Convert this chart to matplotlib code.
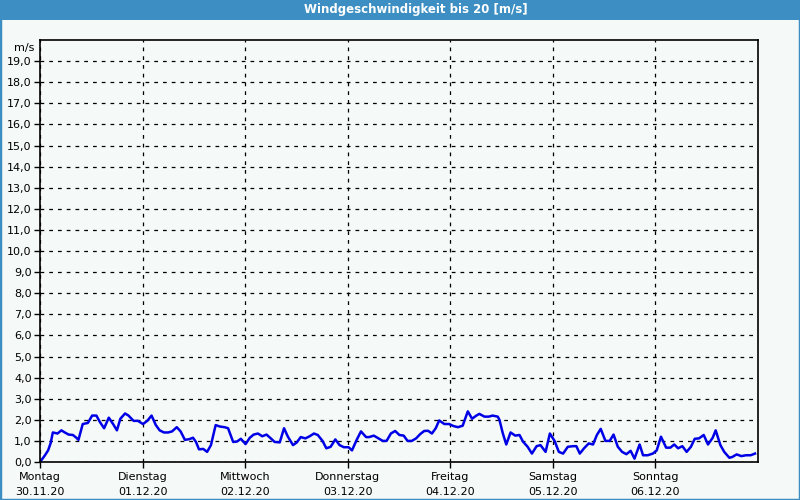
import matplotlib
matplotlib.use("Agg")
import matplotlib.pyplot as plt
from matplotlib.patches import Rectangle
from matplotlib.ticker import FuncFormatter

title = "Windgeschwindigkeit bis 20 [m/s]"
unit = "m/s"
days = ["Montag", "Dienstag", "Mittwoch", "Donnerstag", "Freitag", "Samstag", "Sonntag"]
dates = ["30.11.20", "01.12.20", "02.12.20", "03.12.20", "04.12.20", "05.12.20", "06.12.20"]

# hours since 30.11.20 00:00
hours = [
    0.0, 1.1, 1.9, 2.5, 3.0, 4.1, 5.0, 5.8, 6.7, 7.7, 8.5, 9.0, 10.0, 11.2, 12.2, 13.2,
    14.0, 15.0, 16.1, 17.1, 18.0, 18.8, 19.9, 20.7, 21.9, 22.9, 24.1,
    25.1, 26.1, 27.1, 28.0, 29.0, 30.0, 30.9, 32.0, 32.9, 33.9, 34.9, 35.8, 36.5, 37.2,
    38.2, 39.1, 40.0, 41.1, 42.1, 43.2, 44.0, 45.2, 46.1, 47.0, 48.1,
    49.1, 50.0, 51.0, 52.0, 53.0, 54.0, 54.9, 56.1, 57.1, 58.0, 59.2, 60.1, 61.0, 62.1,
    63.1, 64.1, 65.0, 66.1, 67.0, 68.0, 69.1, 70.1, 71.1, 72.2,
    73.0, 74.1, 75.1, 76.3, 77.0, 78.1, 79.2, 80.2, 81.1, 82.1, 83.1, 84.1, 85.1, 86.0,
    87.0, 88.0, 89.0, 89.9, 90.8, 91.7, 92.6, 93.4, 94.6, 95.7, 96.8,
    97.8, 98.9, 100.1, 101.1, 102.1, 102.8, 104.0, 105.0, 105.9, 107.1, 107.5, 108.3,
    109.1, 110.1, 111.2, 112.2, 113.0, 114.1, 115.1, 116.2, 117.1, 118.3, 119.3, 120.4,
    121.4, 122.4, 123.5, 124.7, 125.5, 126.3, 127.3, 128.4, 129.4, 130.3, 131.2, 132.3,
    133.3, 134.2, 135.2, 136.2, 137.2, 138.2, 139.1, 140.3, 141.1, 142.2, 143.4, 144.3,
    145.3, 146.5, 147.5, 148.4, 149.3, 150.3, 151.3, 152.3, 153.2, 154.2, 155.3, 156.3,
    157.4, 158.1, 159.2, 160.1, 161.3, 162.0, 163.0, 164.1, 165.2, 166.3, 167.3,
]
wind = [
    0.0, 0.3, 0.55, 0.9, 1.4, 1.35, 1.5, 1.4, 1.3, 1.28, 1.15, 1.05, 1.8, 1.85, 2.2, 2.2,
    1.9, 1.6, 2.1, 1.8, 1.5, 2.05, 2.3, 2.2, 1.95, 1.95, 1.8,
    1.95, 2.2, 1.75, 1.5, 1.4, 1.4, 1.45, 1.65, 1.45, 1.05, 1.08, 1.15, 0.95, 0.6,
    0.62, 0.48, 0.8, 1.75, 1.68, 1.65, 1.6, 0.95, 0.97, 1.1, 0.85,
    1.15, 1.3, 1.35, 1.22, 1.3, 1.12, 0.95, 0.93, 1.6, 1.2, 0.8, 0.93, 1.18, 1.12,
    1.22, 1.35, 1.28, 1.0, 0.65, 0.72, 1.07, 0.8, 0.7, 0.7,
    0.55, 1.05, 1.45, 1.18, 1.18, 1.25, 1.12, 1.0, 1.0, 1.35, 1.47, 1.28, 1.25, 1.0,
    1.0, 1.12, 1.33, 1.47, 1.48, 1.35, 1.6, 1.97, 1.8, 1.8, 1.7,
    1.65, 1.72, 2.4, 2.05, 2.2, 2.28, 2.15, 2.15, 2.2, 2.15, 2.0, 1.35,
    0.83, 1.4, 1.25, 1.28, 0.97, 0.72, 0.4, 0.75, 0.8, 0.48, 1.35, 1.0,
    0.48, 0.4, 0.72, 0.75, 0.75, 0.4, 0.65, 0.88, 0.83, 1.28, 1.57, 1.0,
    1.0, 1.3, 0.72, 0.48, 0.37, 0.53, 0.16, 0.83, 0.32, 0.32, 0.4, 0.55,
    1.2, 0.68, 0.68, 0.83, 0.65, 0.75, 0.48, 0.72, 1.1, 1.12, 1.28, 0.83,
    1.15, 1.5, 0.8, 0.48, 0.2, 0.24, 0.36, 0.28, 0.32, 0.32, 0.4,
]

bg = "#f5f9f7"
bar_blue = "#3d8fc3"

fig = plt.figure(figsize=(8, 5), dpi=100, facecolor=bg)
ax = fig.add_axes([0.05, 0.076, 0.8975, 0.844])
ax.set_facecolor(bg)

ax.plot(hours, wind, color="#0000e6", linewidth=1.8)

ax.set_xlim(0, 168)
ax.set_ylim(0, 20)
ax.set_yticks(range(0, 20))
ax.yaxis.set_major_formatter(FuncFormatter(lambda v, p: f"{v:.1f}".replace(".", ",")))
ax.set_xticks(range(0, 168, 24))
ax.set_xticklabels([d + "\n" + t for d, t in zip(days, dates)], linespacing=1.6)
ax.tick_params(axis="both", labelsize=8, length=4, width=1, color="black", pad=2)
ax.tick_params(axis="x", pad=3)

ax.grid(True, color="black", linestyle=(0, (3, 4)), linewidth=0.9)
for s in ax.spines.values():
    s.set_color("black")
    s.set_linewidth(1.2)

fig.text(0.03, 0.905, unit, fontsize=8, ha="center", va="center")

# title bar and frame
fig.patches.append(Rectangle((0, 0.96), 1, 0.04, transform=fig.transFigure,
                             facecolor=bar_blue, edgecolor="none", zorder=0))
fig.patches.append(Rectangle((0, 0), 1, 1, transform=fig.transFigure,
                             facecolor="none", edgecolor=bar_blue, linewidth=2.5))
fig.text(0.52, 0.98, title, color="white", fontsize=8.5, fontweight="bold",
         ha="center", va="center")

fig.savefig("out.png", dpi=100, facecolor=bg)
